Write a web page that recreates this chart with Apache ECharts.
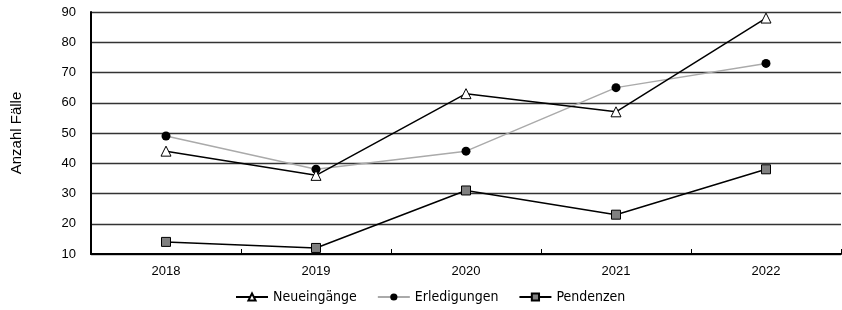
<!DOCTYPE html>
<html>
<head>
<meta charset="utf-8">
<script src="https://cdn.jsdelivr.net/npm/echarts@6/dist/echarts.min.js"></script>
<style>
  html, body { margin: 0; padding: 0; background: #fff; }
  #chart { width: 842px; height: 310px; }
</style>
</head>
<body>
<div id="chart"></div>
<script>
var years = ['2018', '2019', '2020', '2021', '2022'];
var neueingaenge = [44, 36, 63, 57, 88];
var erledigungen = [49, 38, 44, 65, 73];
var pendenzen = [14, 12, 31, 23, 38];

var chart = echarts.init(document.getElementById('chart'));
var font = 'Liberation Sans';

var option = {
  animation: false,
  grid: { left: 91, right: 1, top: 12, bottom: 56 },
  legend: {
    bottom: 1,
    left: 230,
    itemWidth: 32,
    itemHeight: 9,
    itemGap: 20,
    textStyle: { fontFamily: 'DejaVu Sans Condensed, Liberation Sans', fontSize: 14, color: '#000' },
    data: ['Neueingänge', 'Erledigungen', 'Pendenzen']
  },
  xAxis: {
    type: 'category',
    data: years,
    boundaryGap: true,
    axisLine: { lineStyle: { color: '#000', width: 2 } },
    axisTick: { show: true, inside: true, length: 5, lineStyle: { color: '#000' } },
    axisLabel: { fontFamily: font, fontSize: 13, color: '#000', margin: 11 }
  },
  yAxis: {
    type: 'value',
    min: 10,
    max: 90,
    interval: 10,
    name: 'Anzahl Fälle',
    nameLocation: 'middle',
    nameGap: 67,
    nameTextStyle: { fontFamily: font, fontSize: 15, color: '#000' },
    axisLine: { show: true, lineStyle: { color: '#000', width: 2 } },
    axisTick: { show: false },
    axisLabel: { fontFamily: font, fontSize: 13, color: '#000', margin: 15 },
    splitLine: { lineStyle: { color: '#333', width: 1.3 } }
  },
  series: [
    {
      name: 'Neueingänge',
      type: 'line',
      data: neueingaenge,
      symbol: 'triangle',
      symbolSize: 10,
      lineStyle: { color: '#000', width: 1.5 },
      itemStyle: { color: '#fff', borderColor: '#000', borderWidth: 1 },
      z: 4
    },
    {
      name: 'Erledigungen',
      type: 'line',
      data: erledigungen,
      symbol: 'circle',
      symbolSize: 9,
      lineStyle: { color: '#aaa', width: 1.5 },
      itemStyle: { color: '#000', borderColor: '#000', borderWidth: 0 },
      z: 3
    },
    {
      name: 'Pendenzen',
      type: 'line',
      data: pendenzen,
      symbol: 'rect',
      symbolSize: 9,
      lineStyle: { color: '#000', width: 1.5 },
      itemStyle: { color: '#808080', borderColor: '#000', borderWidth: 1 },
      z: 3
    }
  ]
};

chart.setOption(option);
</script>
</body>
</html>
